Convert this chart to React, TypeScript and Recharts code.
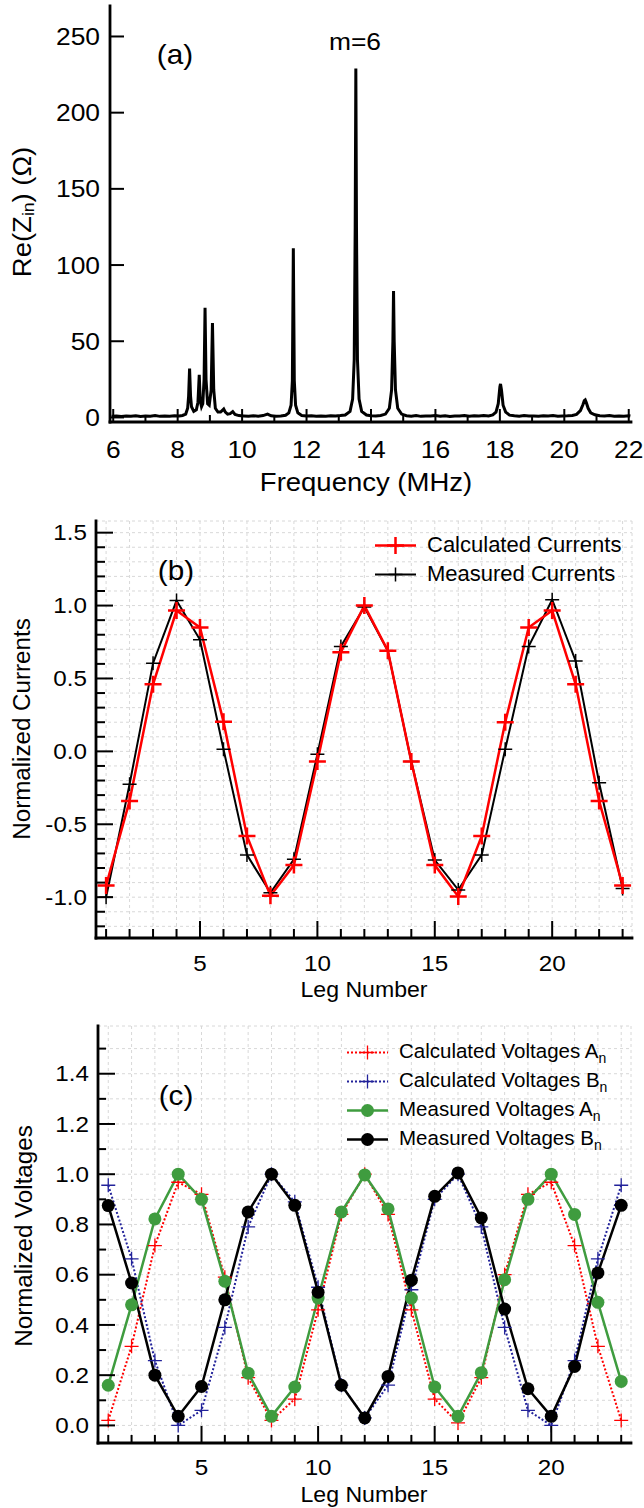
import { LineChart, Line, XAxis, YAxis, CartesianGrid, Legend } from 'recharts'

const FONT = '"Liberation Sans", Arial, Helvetica, sans-serif'

// (a) real part of the input impedance vs frequency
const freq = [
  5.95, 6.1, 6.25, 6.4, 6.55, 6.7, 6.85, 7.0, 7.15, 7.3, 7.45, 7.6, 7.75, 7.9, 8.05, 8.15, 8.25, 8.31, 8.34,
  8.37, 8.4, 8.43, 8.5, 8.58, 8.63, 8.67, 8.7, 8.74, 8.78, 8.82, 8.85, 8.88, 8.93, 8.98, 9.04, 9.08, 9.12,
  9.17, 9.25, 9.33, 9.38, 9.43, 9.48, 9.55, 9.63, 9.71, 9.78, 9.9, 10.05, 10.2, 10.35, 10.5, 10.65, 10.79,
  10.9, 11.05, 11.2, 11.35, 11.45, 11.52, 11.56, 11.59, 11.62, 11.66, 11.73, 11.85, 12.0, 12.15, 12.3, 12.45,
  12.6, 12.75, 12.9, 13.05, 13.2, 13.35, 13.43, 13.48, 13.51, 13.53, 13.55, 13.58, 13.63, 13.71, 13.86, 14.0,
  14.15, 14.3, 14.45, 14.57, 14.64, 14.68, 14.7, 14.72, 14.76, 14.83, 14.95, 15.1, 15.25, 15.4, 15.55, 15.7,
  15.85, 16.0, 16.15, 16.3, 16.45, 16.6, 16.75, 16.9, 17.05, 17.2, 17.35, 17.5, 17.65, 17.78, 17.88, 17.95,
  18.0, 18.02, 18.05, 18.1, 18.18, 18.3, 18.45, 18.6, 18.75, 18.9, 19.05, 19.2, 19.35, 19.5, 19.65, 19.8,
  19.95, 20.1, 20.25, 20.38, 20.5, 20.58, 20.62, 20.65, 20.68, 20.74, 20.82, 20.95, 21.1, 21.25, 21.4, 21.55,
  21.7, 21.85, 22.0, 22.05,
]
const reZ = [
  0.8, 1.0, 0.6, 0.9, 0.7, 1.1, 0.6, 0.9, 0.8, 1.2, 0.7, 1.0, 0.8, 1.1, 0.9, 1.3, 2.2, 6, 14,
  32, 14, 7, 4, 5, 10, 28, 11, 7, 9, 25, 72, 25, 9, 8, 18, 62, 18,
  6, 3.5, 3.5, 4.5, 5.5, 3.5, 2.2, 2.5, 3.8, 2, 1.2, 1.0, 0.7, 1.1, 0.8, 1.2, 2.2,
  1.1, 0.8, 1.0, 1.4, 3, 8, 24, 111, 24, 8, 3, 1.3, 0.9, 1.1, 0.7, 1.0,
  0.8, 1.1, 0.9, 1.2, 1.6, 4, 12, 38, 125, 229, 125, 38, 12, 4, 1.6, 1.1,
  0.9, 1.3, 2.2, 6, 18, 50, 83, 50, 18, 6, 2.2, 1.1, 0.8, 1.2, 0.7, 1.0,
  0.9, 1.2, 0.8, 1.1, 0.6, 1.0, 0.9, 1.3, 0.8, 1.1, 0.9, 1.2, 1.0, 1.6, 3.5, 9,
  20, 22, 18, 8, 3.5, 1.5, 1.1, 0.8, 1.2, 0.9, 1.0, 0.7, 1.1, 0.9, 1.2, 0.8,
  1.0, 1.1, 1.3, 2, 4.5, 8.5, 11, 11.5, 10, 6, 3, 1.7, 1.1, 0.9, 1.2, 0.8,
  1.0, 0.7, 1.1, 0.9,
]
const freqTicks = [6, 7, 8, 9, 10, 11, 12, 13, 14, 15, 16, 17, 18, 19, 20, 21, 22]
const freqMajor = [6, 8, 10, 12, 14, 16, 18, 20, 22]
const zTicks = [0, 50, 100, 150, 200, 250]

// (b) currents on each leg
const legs = [1, 2, 3, 4, 5, 6, 7, 8, 9, 10, 11, 12, 13, 14, 15, 16, 17, 18, 19, 20, 21, 22, 23]
const calcCurrents = [
  -0.92, -0.34, 0.46, 0.966, 0.85, 0.204, -0.58, -0.99, -0.78, -0.07, 0.68, 1.0,
  0.69, -0.07, -0.78, -0.995, -0.58, 0.2, 0.85, 0.966, 0.46, -0.34, -0.92,
]
const measCurrents = [
  -1.0, -0.225, 0.605, 1.034, 0.765, 0.015, -0.71, -0.97, -0.74, -0.02, 0.72, 0.99,
  0.69, -0.07, -0.745, -0.95, -0.71, 0.015, 0.72, 1.04, 0.62, -0.215, -0.94,
]
const legMajor = [5, 10, 15, 20]
const currentTicks = [
  -1.2, -1.1, -1.0, -0.9, -0.8, -0.7, -0.6, -0.5, -0.4, -0.3, -0.2, -0.1, 0, 0.1, 0.2, 0.3, 0.4,
  0.5, 0.6, 0.7, 0.8, 0.9, 1.0, 1.1, 1.2, 1.3, 1.4, 1.5,
]
const currentMajor = [-1.0, -0.5, 0, 0.5, 1.0, 1.5]

// (c) voltages
const calcVoltA = [
  0.02, 0.315, 0.716, 0.968, 0.92, 0.59, 0.19, 0.02, 0.105, 0.46, 0.84, 1.0,
  0.84, 0.46, 0.105, 0.01, 0.19, 0.6, 0.92, 0.968, 0.716, 0.315, 0.02,
]
const calcVoltB = [
  0.956, 0.663, 0.258, 0.0, 0.06, 0.39, 0.79, 1.0, 0.89, 0.55, 0.16, 0.03,
  0.16, 0.54, 0.9, 1.0, 0.79, 0.39, 0.06, 0.0, 0.258, 0.663, 0.956,
]
const measVoltA = [
  0.16, 0.48, 0.822, 1.0, 0.9, 0.574, 0.208, 0.036, 0.153, 0.507, 0.85, 0.997,
  0.862, 0.507, 0.153, 0.036, 0.21, 0.58, 0.9, 1.0, 0.84, 0.49, 0.175,
]
const measVoltB = [
  0.875, 0.567, 0.2, 0.036, 0.155, 0.5, 0.85, 1.0, 0.876, 0.53, 0.16, 0.03,
  0.195, 0.578, 0.912, 1.005, 0.826, 0.463, 0.146, 0.036, 0.235, 0.607, 0.876,
]
const voltTicks = [0, 0.1, 0.2, 0.3, 0.4, 0.5, 0.6, 0.7, 0.8, 0.9, 1.0, 1.1, 1.2, 1.3, 1.4, 1.5]
const voltMajor = [0, 0.2, 0.4, 0.6, 0.8, 1.0, 1.2, 1.4]

const spectrumData = freq.map((f, i) => ({ f, z: reZ[i] }))
const currentData = legs.map((leg, i) => ({ leg, calc: calcCurrents[i], meas: measCurrents[i] }))
const voltageData = legs.map((leg, i) => ({
  leg,
  ca: calcVoltA[i],
  cb: calcVoltB[i],
  ma: measVoltA[i],
  mb: measVoltB[i],
}))

// text slightly stretched horizontally, the original figure's lettering is wide
function Txt(props: any) {
  const { x, y, size, sx = 1.1, rotate, anchor = 'middle', children } = props
  const t = `translate(${x},${y})${rotate ? ` rotate(${rotate})` : ''} scale(${sx},1)`
  return (
    <text transform={t} x={0} y={0} textAnchor={anchor} dominantBaseline="central" fontSize={size} fontFamily={FONT} fill="#000">
      {children}
    </text>
  )
}

// inward tick mark on any side of the frame, with an optional label on major ticks
function FrameTick(props: any) {
  const { x, y, payload, side, majors, majorLen, minorLen, fmt, gap, fontSize } = props
  const v = payload.value
  const major = majors.some((m: number) => Math.abs(m - v) < 1e-6)
  const len = major ? majorLen : minorLen
  const dx = side === 'left' ? len : side === 'right' ? -len : 0
  const dy = side === 'bottom' ? -len : side === 'top' ? len : 0
  let label = null
  if (fmt && major) {
    if (side === 'bottom') {
      label = <Txt x={x} y={y + gap} size={fontSize}>{fmt(v)}</Txt>
    } else if (side === 'left') {
      label = <Txt x={x - gap} y={y} size={fontSize} anchor="end">{fmt(v)}</Txt>
    }
  }
  return (
    <g>
      <line x1={x} y1={y} x2={x + dx} y2={y + dy} stroke="#000" strokeWidth={2} />
      {label}
    </g>
  )
}

const plusDot = (half: number, color: string, w: number) => (p: any) => (
  <path
    key={`p${p.index}`}
    d={`M${p.cx - half},${p.cy}H${p.cx + half}M${p.cx},${p.cy - half}V${p.cy + half}`}
    stroke={color}
    strokeWidth={w}
    fill="none"
  />
)

const frameLine = { stroke: '#000', strokeWidth: 2.8, strokeLinecap: 'square' as const }

function SpectrumChart() {
  const tickX = { majors: freqMajor, majorLen: 13, minorLen: 7 }
  const tickY = { majors: zTicks, majorLen: 14, minorLen: 7 }
  return (
    <LineChart width={644} height={500} data={spectrumData} margin={{ top: 6, right: 13, left: 0, bottom: 0 }}>
      <XAxis xAxisId="b" dataKey="f" type="number" domain={[5.9, 22.07]} allowDataOverflow ticks={freqTicks} interval={0}
        height={78} tickSize={0} tickMargin={0} tickLine={false} axisLine={frameLine}
        tick={<FrameTick side="bottom" {...tickX} fmt={(v: number) => String(v)} gap={27} fontSize={24} />} />
      <XAxis xAxisId="t" orientation="top" dataKey="f" type="number" domain={[5.9, 22.07]} allowDataOverflow ticks={freqTicks} interval={0}
        height={0} tickSize={0} tickMargin={0} tickLine={false} axisLine={frameLine}
        tick={<FrameTick side="top" {...tickX} />} />
      <YAxis yAxisId="l" type="number" domain={[-3, 270]} allowDataOverflow ticks={zTicks} interval={0}
        width={110} tickSize={0} tickMargin={0} tickLine={false} axisLine={frameLine}
        tick={<FrameTick side="left" {...tickY} fmt={(v: number) => String(v)} gap={10} fontSize={24} />} />
      <YAxis yAxisId="r" orientation="right" type="number" domain={[-3, 270]} allowDataOverflow ticks={zTicks} interval={0}
        width={0} tickSize={0} tickMargin={0} tickLine={false} axisLine={frameLine}
        tick={<FrameTick side="right" {...tickY} />} />
      <Line xAxisId="b" yAxisId="l" dataKey="z" type="linear" stroke="#000" strokeWidth={3} dot={false} isAnimationActive={false} />
      <Txt x={366} y={482} size={25}>Frequency (MHz)</Txt>
      <Txt x={22} y={212} size={25} rotate={-90}>
        Re(Z<tspan dy={6} fontSize={16}>in</tspan><tspan dy={-6}>) (Ω)</tspan>
      </Txt>
      <Txt x={175} y={54} size={27}>(a)</Txt>
      <Txt x={355} y={41} size={24}>m=6</Txt>
    </LineChart>
  )
}

function LegendRow({ children, sample }: { children: any; sample: any }) {
  return (
    <div style={{ display: 'flex', alignItems: 'center', height: 29 }}>
      <svg width={41} height={29} style={{ marginRight: 11 }}>{sample}</svg>
      <span>{children}</span>
    </div>
  )
}

function CurrentsLegend() {
  return (
    <div style={{ fontFamily: FONT, fontSize: 22, color: '#000', whiteSpace: 'nowrap' }}>
      <LegendRow sample={<g><line x1={0} y1={14.5} x2={41} y2={14.5} stroke="#f00" strokeWidth={2.5} /><path d="M12,14.5H29M20.5,6V23" stroke="#f00" strokeWidth={2.5} /></g>}>
        Calculated Currents
      </LegendRow>
      <LegendRow sample={<g><line x1={0} y1={14.5} x2={41} y2={14.5} stroke="#000" strokeWidth={2} /><path d="M13.5,14.5H27.5M20.5,7.5V21.5" stroke="#000" strokeWidth={1.5} /></g>}>
        Measured Currents
      </LegendRow>
    </div>
  )
}

function CurrentsChart() {
  const tickX = { majors: legMajor, majorLen: 17, minorLen: 9 }
  const tickY = { majors: currentMajor, majorLen: 17, minorLen: 9 }
  return (
    <LineChart width={644} height={510} data={currentData} margin={{ top: 21, right: 12, left: 0, bottom: 0 }}>
      <CartesianGrid xAxisId="b" yAxisId="l" stroke="#d8d8d8" strokeDasharray="3 3" />
      <XAxis xAxisId="b" dataKey="leg" type="number" domain={[0.57, 23.4]} allowDataOverflow ticks={legs} interval={0}
        height={72} tickSize={0} tickMargin={0} tickLine={false} axisLine={frameLine}
        tick={<FrameTick side="bottom" {...tickX} fmt={(v: number) => String(v)} gap={25} fontSize={22} />} />
      <XAxis xAxisId="t" orientation="top" dataKey="leg" type="number" domain={[0.57, 23.4]} allowDataOverflow ticks={legs} interval={0}
        height={0} tickSize={0} tickMargin={0} tickLine={false} axisLine={frameLine}
        tick={<FrameTick side="top" {...tickX} />} />
      <YAxis yAxisId="l" type="number" domain={[-1.28, 1.58]} allowDataOverflow ticks={currentTicks} interval={0}
        width={96} tickSize={0} tickMargin={0} tickLine={false} axisLine={frameLine}
        tick={<FrameTick side="left" {...tickY} fmt={(v: number) => v.toFixed(1)} gap={9} fontSize={22} />} />
      <YAxis yAxisId="r" orientation="right" type="number" domain={[-1.28, 1.58]} allowDataOverflow ticks={currentTicks} interval={0}
        width={0} tickSize={0} tickMargin={0} tickLine={false} axisLine={frameLine}
        tick={<FrameTick side="right" {...tickY} />} />
      <Line xAxisId="b" yAxisId="l" dataKey="meas" name="Measured Currents" type="linear" stroke="#000" strokeWidth={2}
        dot={plusDot(7, '#000', 1.5)} isAnimationActive={false} />
      <Line xAxisId="b" yAxisId="l" dataKey="calc" name="Calculated Currents" type="linear" stroke="#f00" strokeWidth={2.5}
        dot={plusDot(8.5, '#f00', 2.5)} isAnimationActive={false} />
      <Legend layout="vertical" align="center" verticalAlign="middle" content={<CurrentsLegend />}
        wrapperStyle={{ left: 375, top: 30.5, width: 'auto', height: 'auto' }} />
      <Txt x={364} y={490} size={22} sx={1.05}>Leg Number</Txt>
      <Txt x={22} y={229} size={23} sx={1.05} rotate={-90}>Normalized Currents</Txt>
      <Txt x={176} y={70} size={27}>(b)</Txt>
    </LineChart>
  )
}

function VoltagesLegend() {
  const rows = [
    { label: 'Calculated Voltages A', color: '#f00', kind: 'plus' },
    { label: 'Calculated Voltages B', color: '#22229a', kind: 'plus' },
    { label: 'Measured Voltages A', color: '#3f9c3f', kind: 'dot' },
    { label: 'Measured Voltages B', color: '#000', kind: 'dot' },
  ]
  return (
    <div style={{ fontFamily: FONT, fontSize: 20.5, color: '#000', whiteSpace: 'nowrap' }}>
      {rows.map((r) => (
        <LegendRow
          key={r.label}
          sample={
            r.kind === 'plus' ? (
              <g>
                <line x1={0} y1={14.5} x2={41} y2={14.5} stroke={r.color} strokeWidth={2} strokeDasharray="2 2" />
                <path d="M13.5,14.5H27.5M20.5,7.5V21.5" stroke={r.color} strokeWidth={1.3} />
              </g>
            ) : (
              <g>
                <line x1={0} y1={14.5} x2={41} y2={14.5} stroke={r.color} strokeWidth={2.5} />
                <circle cx={20.5} cy={14.5} r={6.5} fill={r.color} />
              </g>
            )
          }
        >
          {r.label}
          <sub style={{ fontSize: 14 }}>n</sub>
        </LegendRow>
      ))}
    </div>
  )
}

function VoltagesChart() {
  const tickX = { majors: legMajor, majorLen: 17, minorLen: 8 }
  const tickY = { majors: voltMajor, majorLen: 17, minorLen: 8 }
  return (
    <LineChart width={644} height={498} data={voltageData} margin={{ top: 16, right: 13, left: 0, bottom: 0 }}>
      <CartesianGrid xAxisId="b" yAxisId="l" stroke="#d8d8d8" strokeDasharray="3 3" />
      <XAxis xAxisId="b" dataKey="leg" type="number" domain={[0.56, 23.42]} allowDataOverflow ticks={legs} interval={0}
        height={65} tickSize={0} tickMargin={0} tickLine={false} axisLine={frameLine}
        tick={<FrameTick side="bottom" {...tickX} fmt={(v: number) => String(v)} gap={24} fontSize={22} />} />
      <XAxis xAxisId="t" orientation="top" dataKey="leg" type="number" domain={[0.56, 23.42]} allowDataOverflow ticks={legs} interval={0}
        height={0} tickSize={0} tickMargin={0} tickLine={false} axisLine={frameLine}
        tick={<FrameTick side="top" {...tickX} />} />
      <YAxis yAxisId="l" type="number" domain={[-0.07, 1.59]} allowDataOverflow ticks={voltTicks} interval={0}
        width={98} tickSize={0} tickMargin={0} tickLine={false} axisLine={frameLine}
        tick={<FrameTick side="left" {...tickY} fmt={(v: number) => v.toFixed(1)} gap={9} fontSize={22} />} />
      <YAxis yAxisId="r" orientation="right" type="number" domain={[-0.07, 1.59]} allowDataOverflow ticks={voltTicks} interval={0}
        width={0} tickSize={0} tickMargin={0} tickLine={false} axisLine={frameLine}
        tick={<FrameTick side="right" {...tickY} />} />
      <Line xAxisId="b" yAxisId="l" dataKey="ca" name="Calculated Voltages An" type="linear" stroke="#f00" strokeWidth={2}
        strokeDasharray="2 2" dot={plusDot(7, '#f00', 1.3)} isAnimationActive={false} />
      <Line xAxisId="b" yAxisId="l" dataKey="cb" name="Calculated Voltages Bn" type="linear" stroke="#22229a" strokeWidth={2}
        strokeDasharray="2 2" dot={plusDot(7, '#22229a', 1.3)} isAnimationActive={false} />
      <Line xAxisId="b" yAxisId="l" dataKey="ma" name="Measured Voltages An" type="linear" stroke="#3f9c3f" strokeWidth={2.5}
        dot={{ r: 6.5, fill: '#3f9c3f', stroke: 'none' }} isAnimationActive={false} />
      <Line xAxisId="b" yAxisId="l" dataKey="mb" name="Measured Voltages Bn" type="linear" stroke="#000" strokeWidth={2.5}
        dot={{ r: 6.5, fill: '#000', stroke: 'none' }} isAnimationActive={false} />
      <Legend layout="vertical" align="center" verticalAlign="middle" content={<VoltagesLegend />}
        wrapperStyle={{ left: 347, top: 28, width: 'auto', height: 'auto' }} />
      <Txt x={364} y={485} size={22} sx={1.05}>Leg Number</Txt>
      <Txt x={24} y={226} size={23} sx={1.05} rotate={-90}>Normalized Voltages</Txt>
      <Txt x={176} y={85} size={27}>(c)</Txt>
    </LineChart>
  )
}

export default function App() {
  return (
    <div style={{ position: 'absolute', left: 0, top: 0, width: 644, height: 1508, background: '#fff' }}>
      <div style={{ position: 'absolute', left: 0, top: 0 }}>
        <SpectrumChart />
      </div>
      <div style={{ position: 'absolute', left: 0, top: 500 }}>
        <CurrentsChart />
      </div>
      <div style={{ position: 'absolute', left: 0, top: 1010 }}>
        <VoltagesChart />
      </div>
    </div>
  )
}
